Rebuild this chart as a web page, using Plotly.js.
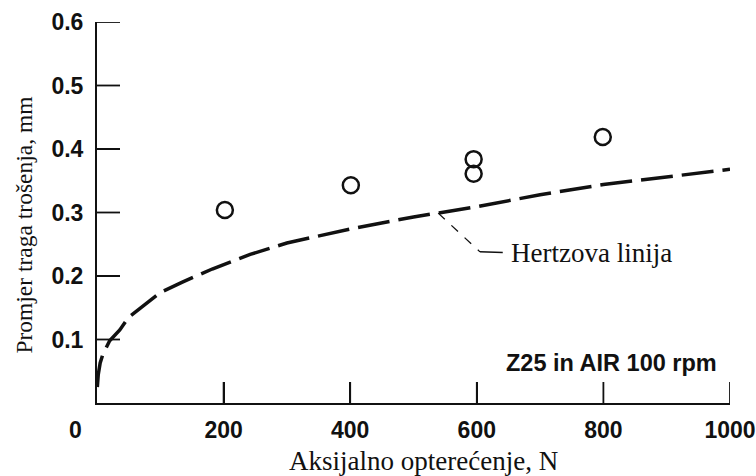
<!DOCTYPE html>
<html>
<head>
<meta charset="utf-8">
<script src="https://cdn.plot.ly/plotly-3.0.1.min.js"></script>
<style>html,body{margin:0;padding:0;background:#fff;}#chart{width:756px;height:476px;}</style>
</head>
<body>
<div id="chart"></div>
<script>
// Measured wear-scar diameters (mm) vs axial load (N)
const loadN = [202, 401, 595, 595, 799];
const scarMm = [0.304, 0.343, 0.384, 0.361, 0.419];

// Hertz line
const hertzLoad = [0.5, 2, 5, 9, 20, 36, 50, 81, 100, 134, 182, 242, 300, 400, 500, 600, 700, 800, 900, 1000];
const hertzDia  = [0.025, 0.045, 0.063, 0.076, 0.098, 0.115, 0.135, 0.160, 0.174, 0.190, 0.211, 0.234, 0.252, 0.274, 0.293, 0.309, 0.328, 0.344, 0.356, 0.368];

const xTicks = [200, 400, 600, 800, 1000];
const yTicks = [0.1, 0.2, 0.3, 0.4, 0.5, 0.6];

const xTitle = 'Aksijalno opterećenje, N';
const yTitle = 'Promjer traga trošenja, mm';
const lineLabel = 'Hertzova linija';
const condLabel = 'Z25 in AIR 100 rpm';

const serif = 'Liberation Serif, Times New Roman, serif';
const sans = 'Liberation Sans, Arial, sans-serif';
const ink = '#111';

const traces = [
  {
    x: hertzLoad, y: hertzDia, type: 'scatter', mode: 'lines',
    line: {color: ink, width: 3.5, dash: '32px,9px'},
    hoverinfo: 'skip'
  },
  {
    x: loadN, y: scarMm, type: 'scatter', mode: 'markers',
    marker: {symbol: 'circle-open', size: 16, color: ink, line: {width: 2.5, color: ink}}
  }
];

// inward tick marks drawn at the tick values
const tickShapes = [
  ...xTicks.map(v => ({type: 'line', xref: 'x', yref: 'paper', ysizemode: 'pixel', yanchor: 0,
    x0: v, x1: v, y0: 0, y1: 21, line: {color: ink, width: 1.8}})),
  ...yTicks.map(v => ({type: 'line', yref: 'y', xref: 'paper', xsizemode: 'pixel', xanchor: 0,
    y0: v, y1: v, x0: 0, x1: 23, line: {color: ink, width: 1.8}}))
];

const layout = {
  width: 756, height: 476,
  margin: {l: 97, r: 26, t: 22, b: 73},
  paper_bgcolor: '#fff', plot_bgcolor: '#fff',
  showlegend: false,
  xaxis: {
    range: [0, 1000], tickvals: xTicks, ticktext: xTicks.map(String),
    ticks: 'inside', ticklen: 21, tickwidth: 1.8, tickcolor: ink,
    showline: true, linecolor: ink, linewidth: 2, showgrid: false, zeroline: false,
    tickfont: {family: sans, size: 23, color: ink, weight: 'bold'},
    ticklabelstandoff: 5
  },
  yaxis: {
    range: [0, 0.6], tickvals: yTicks, ticktext: yTicks.map(v => v.toFixed(1)),
    ticks: 'inside', ticklen: 23, tickwidth: 1.8, tickcolor: ink,
    showline: true, linecolor: ink, linewidth: 2, showgrid: false, zeroline: false,
    tickfont: {family: sans, size: 23, color: ink, weight: 'bold'},
    ticklabelstandoff: 7
  },
  shapes: [
    ...tickShapes,
    {type: 'line', xref: 'x', yref: 'y', x0: 539, y0: 0.299, x1: 605, y1: 0.238,
     line: {color: ink, width: 1.3, dash: 'dash'}},
    {type: 'line', xref: 'x', yref: 'y', x0: 605, y0: 0.238, x1: 641, y1: 0.237,
     line: {color: ink, width: 1.5}}
  ],
  annotations: [
    {x: 0.516, y: -0.152, xref: 'paper', yref: 'paper', text: xTitle, showarrow: false,
     xanchor: 'center', yanchor: 'middle', font: {family: serif, size: 27, color: ink}},
    {x: -0.1145, y: 0.467, xref: 'paper', yref: 'paper', text: yTitle, showarrow: false,
     textangle: -90, xanchor: 'center', yanchor: 'middle', font: {family: serif, size: 23.5, color: ink}},
    {x: 651, y: 0.237, xref: 'x', yref: 'y', text: lineLabel, showarrow: false,
     xanchor: 'left', yanchor: 'middle', font: {family: serif, size: 27, color: ink}},
    {x: 983, y: 0.063, xref: 'x', yref: 'y', text: condLabel, showarrow: false,
     xanchor: 'right', yanchor: 'middle', font: {family: sans, size: 23.5, color: ink, weight: 'bold'}},
    {x: 0, y: 0, xref: 'x', yref: 'y', text: '0', showarrow: false,
     xanchor: 'center', yanchor: 'middle', xshift: -22, yshift: -27,
     font: {family: sans, size: 23, color: ink, weight: 'bold'}}
  ]
};

Plotly.newPlot('chart', traces, layout, {displayModeBar: false, staticPlot: true});
</script>
</body>
</html>
